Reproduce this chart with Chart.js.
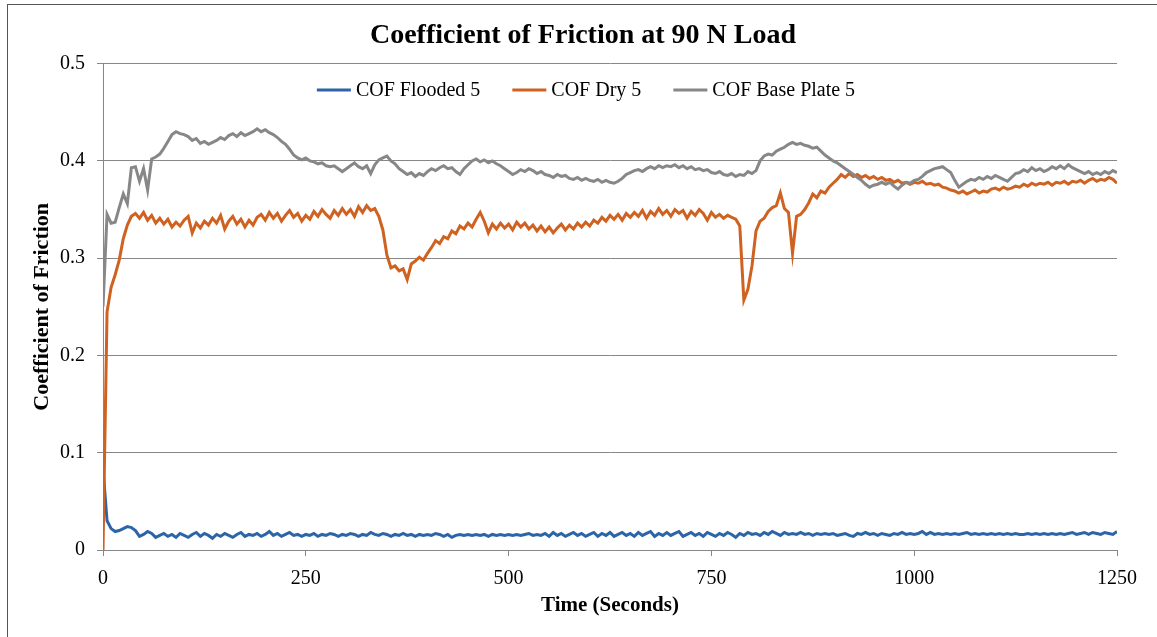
<!DOCTYPE html>
<html>
<head>
<meta charset="utf-8">
<title>Coefficient of Friction at 90 N Load</title>
<script src="https://cdn.jsdelivr.net/npm/chart.js@4.4.1/dist/chart.umd.min.js"></script>
<style>
  html, body { margin: 0; padding: 0; background: #fff; }
  #wrap { position: relative; width: 1157px; height: 637px; overflow: hidden; }
  #frame { position: absolute; left: 7px; top: 4px; right: 0; bottom: 0; border-top: 1px solid #555; border-left: 1px solid #555; }
  canvas { position: absolute; left: 0; top: 0; }
</style>
</head>
<body>
<div id="wrap">
  <div id="frame"></div>
  <canvas id="cofChart" width="1157" height="637"></canvas>
</div>
<script>
// tribometer log, one sample every 5 s from 0 to 1250 s
const sampleStep = 5;
const timeTicks = [0, 250, 500, 750, 1000, 1250];
const cofTicks = [0, 0.1, 0.2, 0.3, 0.4, 0.5];
const seriesNames = ['COF Flooded 5', 'COF Dry 5', 'COF Base Plate 5'];
const seriesColors = ['#2b65a8', '#cf6220', '#878787'];

// each row = 50 s
const cofFlooded = [
  0.084, 0.030, 0.022, 0.019, 0.020, 0.022, 0.024, 0.023, 0.020, 0.014,
  0.016, 0.019, 0.017, 0.013, 0.015, 0.017, 0.014, 0.016, 0.013, 0.017,
  0.015, 0.013, 0.016, 0.018, 0.014, 0.017, 0.015, 0.012, 0.016, 0.014,
  0.017, 0.015, 0.013, 0.016, 0.018, 0.014, 0.016, 0.015, 0.017, 0.014,
  0.016, 0.019, 0.015, 0.017, 0.014, 0.016, 0.018, 0.015, 0.016, 0.014,
  0.016, 0.015, 0.017, 0.014, 0.016, 0.015, 0.017, 0.016, 0.014, 0.016,
  0.015, 0.017, 0.016, 0.014, 0.016, 0.015, 0.018, 0.016, 0.015, 0.017,
  0.016, 0.014, 0.016, 0.015, 0.017, 0.015, 0.016, 0.014, 0.016, 0.015,
  0.016, 0.015, 0.017, 0.016, 0.014, 0.016, 0.013, 0.015, 0.016, 0.015,
  0.016, 0.015, 0.016, 0.015, 0.016, 0.014, 0.016, 0.015, 0.016, 0.015,
  0.016, 0.015, 0.016, 0.015, 0.016, 0.017, 0.015, 0.016, 0.015, 0.017,
  0.014, 0.018, 0.015, 0.017, 0.014, 0.016, 0.018, 0.015, 0.017, 0.014,
  0.016, 0.018, 0.014, 0.017, 0.015, 0.018, 0.014, 0.016, 0.018, 0.015,
  0.017, 0.014, 0.018, 0.015, 0.017, 0.019, 0.014, 0.017, 0.015, 0.018,
  0.015, 0.017, 0.019, 0.014, 0.016, 0.018, 0.015, 0.017, 0.014, 0.018,
  0.016, 0.014, 0.017, 0.015, 0.018, 0.016, 0.013, 0.017, 0.015, 0.018,
  0.016, 0.017, 0.015, 0.018, 0.016, 0.019, 0.017, 0.015, 0.018, 0.016,
  0.017, 0.016, 0.018, 0.016, 0.017, 0.015, 0.017, 0.016, 0.017, 0.016,
  0.017, 0.015, 0.016, 0.017, 0.015, 0.014, 0.017, 0.016, 0.018, 0.016,
  0.017, 0.015, 0.017, 0.016, 0.015, 0.017, 0.016, 0.018, 0.016, 0.017,
  0.016, 0.017, 0.019, 0.016, 0.018, 0.016, 0.017, 0.016, 0.017, 0.016,
  0.017, 0.016, 0.017, 0.018, 0.016, 0.017, 0.016, 0.017, 0.016, 0.017,
  0.016, 0.017, 0.016, 0.017, 0.016, 0.017, 0.016, 0.016, 0.017, 0.016,
  0.017, 0.016, 0.017, 0.016, 0.017, 0.016, 0.017, 0.016, 0.017, 0.018,
  0.016, 0.017, 0.018, 0.016, 0.018, 0.017, 0.016, 0.018, 0.017, 0.016,
  0.019
];

const cofDry = [
  0.000, 0.245, 0.270, 0.283, 0.298, 0.320, 0.334, 0.343, 0.346, 0.341,
  0.347, 0.339, 0.344, 0.336, 0.341, 0.335, 0.340, 0.332, 0.337, 0.333,
  0.339, 0.343, 0.326, 0.336, 0.331, 0.338, 0.334, 0.341, 0.336, 0.344,
  0.330, 0.338, 0.343, 0.335, 0.340, 0.332, 0.339, 0.334, 0.342, 0.345,
  0.339, 0.347, 0.341, 0.346, 0.338, 0.344, 0.349, 0.342, 0.346, 0.338,
  0.344, 0.340, 0.348, 0.343, 0.350, 0.345, 0.341, 0.349, 0.344, 0.351,
  0.345, 0.350, 0.343, 0.353, 0.347, 0.354, 0.349, 0.351, 0.343, 0.329,
  0.303, 0.290, 0.292, 0.287, 0.289, 0.278, 0.294, 0.297, 0.301, 0.298,
  0.305, 0.311, 0.318, 0.315, 0.322, 0.320, 0.328, 0.325, 0.333, 0.330,
  0.336, 0.332, 0.340, 0.347, 0.338, 0.326, 0.335, 0.330, 0.336, 0.331,
  0.335, 0.329, 0.337, 0.332, 0.336, 0.330, 0.334, 0.328, 0.333, 0.327,
  0.332, 0.326, 0.331, 0.335, 0.329, 0.334, 0.330, 0.336, 0.332, 0.337,
  0.333, 0.339, 0.336, 0.342, 0.338, 0.344, 0.340, 0.345, 0.339, 0.346,
  0.342, 0.347, 0.343, 0.349, 0.341, 0.348, 0.344, 0.351, 0.345, 0.349,
  0.343, 0.350, 0.346, 0.349, 0.341, 0.348, 0.344, 0.350, 0.346, 0.339,
  0.347, 0.342, 0.345, 0.341, 0.344, 0.342, 0.340, 0.333, 0.257, 0.268,
  0.292, 0.328, 0.338, 0.341, 0.348, 0.352, 0.354, 0.367, 0.351, 0.347,
  0.305, 0.343, 0.345, 0.350, 0.357, 0.366, 0.362, 0.369, 0.367, 0.373,
  0.377, 0.381, 0.386, 0.383, 0.387, 0.384, 0.386, 0.383, 0.385, 0.382,
  0.384, 0.381, 0.383, 0.380, 0.381, 0.378, 0.380, 0.377, 0.378, 0.376,
  0.378, 0.377, 0.379, 0.376, 0.377, 0.375, 0.376, 0.373, 0.372, 0.370,
  0.369, 0.367, 0.369, 0.366, 0.368, 0.370, 0.367, 0.369, 0.368, 0.371,
  0.372, 0.370, 0.373, 0.371, 0.372, 0.374, 0.373, 0.376, 0.374, 0.377,
  0.375, 0.377, 0.376, 0.378, 0.375, 0.378, 0.377, 0.379, 0.376, 0.379,
  0.378, 0.380, 0.377, 0.380, 0.382, 0.379, 0.381, 0.380, 0.383, 0.381,
  0.377
];

const cofBasePlate = [
  0.250, 0.345, 0.336, 0.337, 0.352, 0.366, 0.356, 0.393, 0.394, 0.379,
  0.392, 0.370, 0.402, 0.404, 0.407, 0.413, 0.420, 0.427, 0.430, 0.428,
  0.427, 0.425, 0.421, 0.423, 0.418, 0.420, 0.417, 0.419, 0.421, 0.424,
  0.422, 0.426, 0.428, 0.425, 0.429, 0.426, 0.428, 0.430, 0.433, 0.430,
  0.432, 0.429, 0.427, 0.424, 0.420, 0.417, 0.412, 0.406, 0.403, 0.401,
  0.403, 0.400, 0.399, 0.397, 0.398, 0.395, 0.394, 0.395, 0.392, 0.389,
  0.392, 0.395, 0.398, 0.394, 0.392, 0.395, 0.387, 0.396, 0.401, 0.403,
  0.405, 0.400, 0.397, 0.392, 0.389, 0.386, 0.388, 0.384, 0.387, 0.385,
  0.389, 0.392, 0.390, 0.393, 0.395, 0.392, 0.393, 0.389, 0.386, 0.392,
  0.396, 0.400, 0.402, 0.399, 0.401, 0.398, 0.400, 0.397, 0.395, 0.392,
  0.389, 0.386, 0.388, 0.391, 0.389, 0.392, 0.390, 0.387, 0.389, 0.386,
  0.385, 0.383, 0.386, 0.384, 0.385, 0.382, 0.381, 0.383, 0.380, 0.382,
  0.380, 0.379, 0.381, 0.378, 0.380, 0.378, 0.377, 0.379, 0.382, 0.386,
  0.388, 0.390, 0.391, 0.389, 0.392, 0.394, 0.392, 0.395, 0.393, 0.395,
  0.394, 0.396, 0.393, 0.395, 0.392, 0.394, 0.391, 0.392, 0.390, 0.391,
  0.388, 0.387, 0.389, 0.386, 0.385, 0.387, 0.384, 0.386, 0.385, 0.389,
  0.387, 0.390, 0.400, 0.405, 0.407, 0.406, 0.410, 0.412, 0.414, 0.417,
  0.419, 0.417, 0.418, 0.416, 0.415, 0.413, 0.414, 0.410, 0.406, 0.403,
  0.400, 0.398, 0.395, 0.392, 0.389, 0.386, 0.383, 0.380, 0.376, 0.373,
  0.375, 0.376, 0.378, 0.376, 0.378, 0.374, 0.371, 0.375, 0.378, 0.377,
  0.380, 0.381, 0.384, 0.388, 0.390, 0.392, 0.393, 0.394, 0.391, 0.388,
  0.380, 0.373, 0.376, 0.379, 0.381, 0.380, 0.383, 0.381, 0.384, 0.382,
  0.385, 0.383, 0.381, 0.379, 0.383, 0.387, 0.388, 0.391, 0.389, 0.393,
  0.390, 0.392, 0.389, 0.391, 0.394, 0.392, 0.395, 0.392, 0.396, 0.393,
  0.391, 0.389, 0.387, 0.389, 0.386, 0.388, 0.386, 0.389, 0.387, 0.390,
  0.388
];

const serif = "'Liberation Serif', 'Times New Roman', serif";
const legendFont = "20px 'Liberation Serif', 'Times New Roman', serif";

function toPoints(values) {
  return values.map((v, i) => ({ x: i * sampleStep, y: v }));
}

// legend sits inside the plot, just under the top gridline
const insideLegend = {
  id: 'insideLegend',
  afterDatasetsDraw(chart, args, opts) {
    const ctx = chart.ctx;
    const sets = chart.data.datasets;
    ctx.save();
    ctx.font = legendFont;
    const widths = sets.map(ds => opts.lineLength + opts.lineGap + ctx.measureText(ds.label).width);
    const total = widths.reduce((a, b) => a + b, 0) + opts.itemGap * (sets.length - 1);
    let x = opts.centerX - total / 2;
    sets.forEach((ds, i) => {
      ctx.strokeStyle = ds.borderColor;
      ctx.lineWidth = 3;
      ctx.beginPath();
      ctx.moveTo(x, opts.y);
      ctx.lineTo(x + opts.lineLength, opts.y);
      ctx.stroke();
      ctx.fillStyle = '#000';
      ctx.textBaseline = 'middle';
      ctx.fillText(ds.label, x + opts.lineLength + opts.lineGap, opts.y + 1);
      x += widths[i] + opts.itemGap;
    });
    ctx.restore();
  }
};

const seriesValues = [cofFlooded, cofDry, cofBasePlate];
const datasets = seriesValues.map((vals, i) => ({
  label: seriesNames[i],
  data: toPoints(vals),
  borderColor: seriesColors[i],
  backgroundColor: seriesColors[i],
  borderWidth: 3,
  pointRadius: 0,
  tension: 0,
  fill: false,
  order: 3 - i
}));

new Chart(document.getElementById('cofChart'), {
  type: 'line',
  data: { datasets },
  plugins: [insideLegend],
  options: {
    responsive: false,
    animation: false,
    // left/right padding also centres the title over the page
    layout: { padding: { top: 0, left: 49, right: 40, bottom: 0 } },
    plugins: {
      legend: { display: false },
      tooltip: { enabled: false },
      title: {
        display: true,
        text: 'Coefficient of Friction at 90 N Load',
        color: '#000',
        font: { family: serif, size: 28, weight: 'bold' },
        padding: { top: 19, bottom: 11 }
      },
      insideLegend: {
        centerX: 586,
        y: 90,
        lineLength: 34,
        lineGap: 5,
        itemGap: 32
      }
    },
    scales: {
      x: {
        type: 'linear',
        min: 0,
        max: 1250,
        afterBuildTicks: axis => { axis.ticks = timeTicks.map(value => ({ value })); },
        afterFit: axis => { axis.height = 87; },
        grid: { drawOnChartArea: false, drawTicks: true, tickLength: 6, tickColor: '#878787' },
        border: { display: true, color: '#878787', width: 1 },
        ticks: {
          color: '#000',
          font: { family: serif, size: 20 },
          padding: 11,
          maxRotation: 0,
          callback: v => String(v)
        },
        title: {
          display: true,
          text: 'Time (Seconds)',
          color: '#000',
          font: { family: serif, size: 21, weight: 'bold' },
          padding: { top: 0, bottom: 19 }
        }
      },
      y: {
        min: 0,
        max: 0.5,
        afterBuildTicks: axis => { axis.ticks = cofTicks.map(value => ({ value })); },
        afterFit: axis => { axis.width = 54; },
        grid: { color: '#878787', tickColor: '#878787', tickLength: 6, lineWidth: 1 },
        border: { display: true, color: '#878787', width: 1 },
        ticks: {
          color: '#000',
          font: { family: serif, size: 20 },
          padding: 12,
          callback: v => (v === 0 ? '0' : v.toFixed(1))
        },
        title: {
          display: true,
          text: 'Coefficient of Friction',
          color: '#000',
          font: { family: serif, size: 22, weight: 'bold' },
          padding: { top: -20, bottom: 0 }
        }
      }
    }
  }
});
</script>
</body>
</html>
